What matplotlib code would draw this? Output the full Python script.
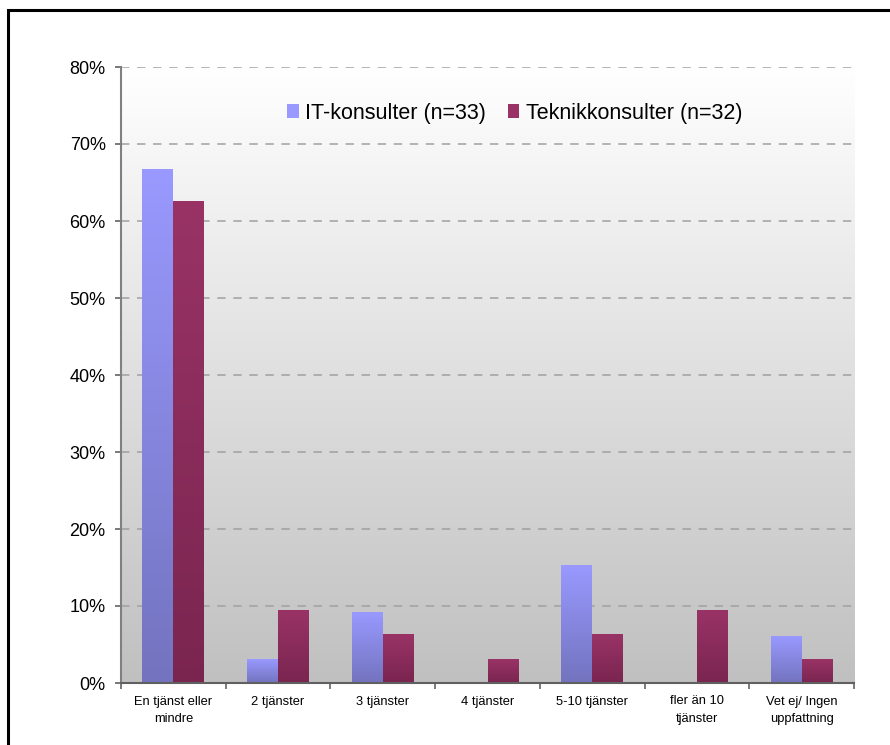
import numpy as np
import matplotlib
matplotlib.use("Agg")
import matplotlib.pyplot as plt
from matplotlib.patches import Rectangle, Patch
from matplotlib.colors import to_rgb
from matplotlib.ticker import FixedLocator, PercentFormatter

plt.rcParams['font.family'] = ['Liberation Sans', 'DejaVu Sans']

categories = ["En tjänst eller\nmindre", "2 tjänster", "3 tjänster", "4 tjänster",
              "5-10 tjänster", "fler än 10\ntjänster", "Vet ej/ Ingen\nuppfattning"]
it_values = [66.7, 3.0, 9.1, 0.0, 15.2, 0.0, 6.1]
tek_values = [62.5, 9.4, 6.25, 3.1, 6.25, 9.4, 3.1]
series_labels = ["IT-konsulter (n=33)", "Teknikkonsulter (n=32)"]
y_ticks = [0, 10, 20, 30, 40, 50, 60, 70, 80]

it_top, it_bottom = "#9999ff", "#7373bf"
tek_top, tek_bottom = "#993366", "#7a2550"

fig = plt.figure(figsize=(8.9, 7.45), dpi=100)
ax = fig.add_axes([121 / 890, 1 - 683 / 745, 733 / 890, 616 / 745])

x = np.arange(len(categories))
width = 0.295

# plot-area background: white at the top fading to grey at the bottom
bg = np.linspace(0, 1, 256)[:, None]
top_c, bot_c = np.array(to_rgb("#ffffff")), np.array(to_rgb("#c0c0c0"))
bg_img = top_c[None, None, :] * (1 - bg[..., None]) + bot_c[None, None, :] * bg[..., None]
ax.imshow(bg_img, extent=[0, 1, 0, 1], transform=ax.transAxes, aspect='auto',
          zorder=0, interpolation='bilinear')


def gradient_bars(xpos, values, c_top, c_bot):
    bars = ax.bar(xpos, values, width, facecolor='none', edgecolor='none', zorder=3)
    t = np.linspace(0, 1, 128)[:, None, None]
    ct, cb = np.array(to_rgb(c_top)), np.array(to_rgb(c_bot))
    img = ct * (1 - t) + cb * t
    for r in bars:
        h = r.get_height()
        if h <= 0:
            continue
        x0 = r.get_x()
        ax.imshow(img, extent=[x0, x0 + r.get_width(), 0, h], aspect='auto',
                  zorder=3, interpolation='bilinear')
    return bars


gradient_bars(x - width / 2, it_values, it_top, it_bottom)
gradient_bars(x + width / 2, tek_values, tek_top, tek_bottom)
ax.set_xlim(-0.5, len(categories) - 0.5)
ax.set_ylim(0, 80)
ax.set_aspect('auto')

# grid
ax.set_yticks(y_ticks)
ax.yaxis.set_major_formatter(PercentFormatter(decimals=0))
ax.yaxis.grid(True, linestyle=(0, (5.5, 5)), color='#a0a0a0', linewidth=1.1, zorder=1)
ax.set_axisbelow(True)

# category boundaries carry the tick marks, labels sit in the centres
ax.xaxis.set_major_locator(FixedLocator(np.arange(-0.5, len(categories), 1.0)))
ax.xaxis.set_minor_locator(FixedLocator(x))
ax.set_xticklabels([""] * (len(categories) + 1))
ax.set_xticklabels(categories, minor=True, linespacing=1.6)
ax.tick_params(axis='x', which='major', length=4, width=1.1, color='#555555', direction='out')
ax.tick_params(axis='x', which='minor', length=0, pad=9, labelsize=9.3)
ax.tick_params(axis='y', length=4, width=1.1, color='#555555', pad=7, labelsize=13)

for side in ('top', 'right'):
    ax.spines[side].set_visible(False)
ax.spines['left'].set_color('#808080')
ax.spines['left'].set_linewidth(1.5)
ax.spines['bottom'].set_color('#606060')
ax.spines['bottom'].set_linewidth(1.5)
ax.spines['left'].set_zorder(4)
ax.spines['bottom'].set_zorder(4)

handles = [Patch(facecolor=it_top, edgecolor='none'), Patch(facecolor=tek_top, edgecolor='none')]
ax.legend(handles, series_labels, ncol=2, loc='center', bbox_to_anchor=(0.537, 0.925),
          frameon=False, fontsize=15.5, handlelength=0.55, handleheight=0.6,
          handletextpad=0.3, columnspacing=1.0)

# frame around the figure
fig.patches.append(Rectangle((8 / 890, -0.05), 1.1, 1 - 10 / 745 + 0.05, transform=fig.transFigure,
                             fill=False, edgecolor='black', linewidth=2.2))

fig.savefig("out.png", dpi=100)
